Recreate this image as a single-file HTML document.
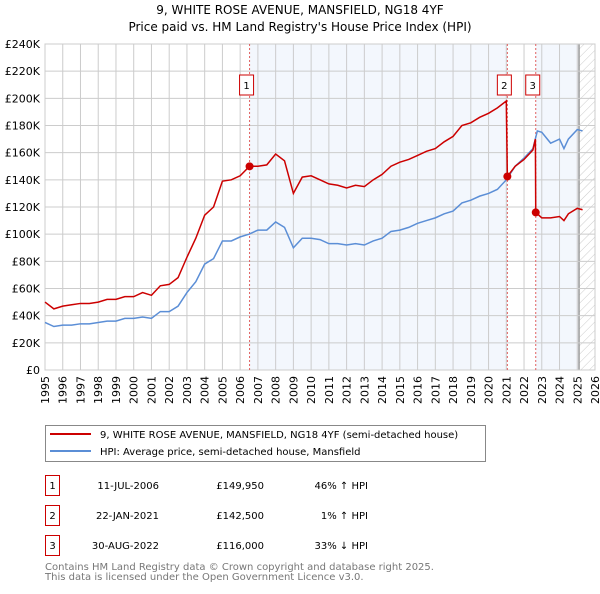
<!DOCTYPE html>
<html><head><meta charset="utf-8"><style>
body{margin:0;background:#fff;font-family:"DejaVu Sans","Liberation Sans",sans-serif;}
svg text{font-family:"DejaVu Sans","Liberation Sans",sans-serif;}
</style></head><body>
<svg id="chart" width="600" height="590" xmlns="http://www.w3.org/2000/svg">
<defs><pattern id="hatch" width="6" height="6" patternUnits="userSpaceOnUse" patternTransform="rotate(45)"><line x1="0" y1="0" x2="0" y2="6" stroke="#ccc" stroke-width="1"/></pattern></defs>
<text x="300" y="14" font-size="12" text-anchor="middle">9, WHITE ROSE AVENUE, MANSFIELD, NG18 4YF</text>
<text x="300" y="31" font-size="12" text-anchor="middle">Price paid vs. HM Land Registry's House Price Index (HPI)</text>
<g id="plot"></g>
<rect x="45.5" y="425.5" width="440" height="36" fill="#fff" stroke="#888"/>
<line x1="50" y1="434" x2="91" y2="434" stroke="#cc0000" stroke-width="2"/>
<text x="100" y="438" font-size="10">9, WHITE ROSE AVENUE, MANSFIELD, NG18 4YF (semi-detached house)</text>
<line x1="50" y1="451" x2="91" y2="451" stroke="#5b8ed6" stroke-width="2"/>
<text x="100" y="455" font-size="10">HPI: Average price, semi-detached house, Mansfield</text>
<g font-size="10">
<rect x="45.5" y="475.5" width="14" height="20" fill="#fff" stroke="#cc0000"/><text x="52.5" y="489" text-anchor="middle">1</text>
<text x="159" y="489" text-anchor="end">11-JUL-2006</text><text x="264" y="489" text-anchor="end">£149,950</text><text x="368" y="489" text-anchor="end">46% ↑ HPI</text>
<rect x="45.5" y="505.5" width="14" height="20" fill="#fff" stroke="#cc0000"/><text x="52.5" y="519" text-anchor="middle">2</text>
<text x="159" y="519" text-anchor="end">22-JAN-2021</text><text x="264" y="519" text-anchor="end">£142,500</text><text x="368" y="519" text-anchor="end">1% ↑ HPI</text>
<rect x="45.5" y="535.5" width="14" height="20" fill="#fff" stroke="#cc0000"/><text x="52.5" y="549" text-anchor="middle">3</text>
<text x="159" y="549" text-anchor="end">30-AUG-2022</text><text x="264" y="549" text-anchor="end">£116,000</text><text x="368" y="549" text-anchor="end">33% ↓ HPI</text>
</g>
<text x="45" y="570" font-size="10" fill="#777">Contains HM Land Registry data © Crown copyright and database right 2025.</text>
<text x="45" y="580" font-size="10" fill="#777">This data is licensed under the Open Government Licence v3.0.</text>
</svg>
<script>
const years=[1995,1995.5,1996,1996.5,1997,1997.5,1998,1998.5,1999,1999.5,2000,2000.5,2001,2001.5,2002,2002.5,2003,2003.5,2004,2004.5,2005,2005.5,2006,2006.5,2007,2007.5,2008,2008.5,2009,2009.5,2010,2010.5,2011,2011.5,2012,2012.5,2013,2013.5,2014,2014.5,2015,2015.5,2016,2016.5,2017,2017.5,2018,2018.5,2019,2019.5,2020,2020.5,2021,2021.5,2022,2022.5,2022.75,2023,2023.5,2024,2024.25,2024.5,2025,2025.3];
const hpiValues=[35,32,33,33,34,34,35,36,36,38,38,39,38,43,43,47,57,65,78,82,95,95,98,100,103,103,109,105,90,97,97,96,93,93,92,93,92,95,97,102,103,105,108,110,112,115,117,123,125,128,130,133,140,150,156,163,176,175,167,170,163,170,177,176];
const propYears=[1995,1995.5,1996,1996.5,1997,1997.5,1998,1998.5,1999,1999.5,2000,2000.5,2001,2001.5,2002,2002.5,2003,2003.5,2004,2004.5,2005,2005.5,2006,2006.53,2007,2007.5,2008,2008.5,2009,2009.5,2010,2010.5,2011,2011.5,2012,2012.5,2013,2013.5,2014,2014.5,2015,2015.5,2016,2016.5,2017,2017.5,2018,2018.5,2019,2019.5,2020,2020.5,2021.0,2021.06,2021.5,2022,2022.5,2022.64,2022.66,2023,2023.5,2024,2024.25,2024.5,2025,2025.3];
const propValues=[50,45,47,48,49,49,50,52,52,54,54,57,55,62,63,68,83,97,114,120,139,140,143,150,150,151,159,154,130,142,143,140,137,136,134,136,135,140,144,150,153,155,158,161,163,168,172,180,182,186,189,193,198,142.5,150,155,162,170,116,112,112,113,110,115,119,118];
const saleYears=[2006.53,2021.06,2022.66];
const salePrices=[149.95,142.5,116];
const saleLabels=["1","2","3"];
const yTicks=[0,20,40,60,80,100,120,140,160,180,200,220,240];
const yTickLabels=["£0","£20K","£40K","£60K","£80K","£100K","£120K","£140K","£160K","£180K","£200K","£220K","£240K"];
const xTicks=[1995,1996,1997,1998,1999,2000,2001,2002,2003,2004,2005,2006,2007,2008,2009,2010,2011,2012,2013,2014,2015,2016,2017,2018,2019,2020,2021,2022,2023,2024,2025,2026];

const X0=45,X1=595,Y0=370,Y1=44;
const xs=y=>X0+(y-1995)*(X1-X0)/31;
const ys=v=>Y0-v*(Y0-Y1)/240;
const NS="http://www.w3.org/2000/svg";
const g=document.getElementById('plot');
function mk(t,a){const e=document.createElementNS(NS,t);for(const k in a)e.setAttribute(k,a[k]);g.appendChild(e);return e;}
let r=mk('rect',{x:xs(saleYears[0]),y:Y1,width:xs(saleYears[1])-xs(saleYears[0]),height:Y0-Y1,fill:'#eef3fc',opacity:0.7});


r=mk('rect',{x:xs(saleYears[2]),y:Y1,width:xs(2025.1)-xs(saleYears[2]),height:Y0-Y1,fill:'#eef3fc',opacity:0.7});


r=mk('rect',{x:xs(2025.1),y:Y1,width:X1-xs(2025.1),height:Y0-Y1,fill:'url(#hatch)'});


mk('line',{x1:xs(2025.1),y1:Y1,x2:xs(2025.1),y2:Y0,stroke:'#999','stroke-width':1.5});
yTicks.forEach((t,i)=>{
 mk('line',{x1:X0,y1:ys(t),x2:X1,y2:ys(t),stroke:'#ccc','stroke-width':1});
 const e=mk('text',{x:X0-5,y:ys(t)+4,'font-size':11,'text-anchor':'end'});e.textContent=yTickLabels[i];
 
 
});
xTicks.forEach(t=>{
 mk('line',{x1:xs(t),y1:Y1,x2:xs(t),y2:Y0,stroke:'#ccc','stroke-width':1});
 const e=mk('text',{x:0,y:0,'font-size':11,'text-anchor':'end',transform:`translate(${xs(t)+4},${Y0+6}) rotate(-90)`});e.textContent=t;
 
 
});
mk('rect',{x:X0,y:Y1,width:X1-X0,height:Y0-Y1,fill:'none',stroke:'#ccc'});
saleYears.forEach((s,i)=>{
 mk('line',{x1:xs(s),y1:Y1,x2:xs(s),y2:Y0,stroke:'#e06060','stroke-width':1,'stroke-dasharray':'2,2'});
 const b=mk('rect',{x:xs(s)-10,y:75,width:14,height:20,fill:'#fff',stroke:'#cc0000'});
 
 
 const t=mk('text',{x:xs(s)-3,y:89,'font-size':10,'text-anchor':'middle'});t.textContent=saleLabels[i];
});
let p=mk('polyline',{points:years.map((y,i)=>xs(y)+','+ys(hpiValues[i])).join(' '),fill:'none',stroke:'#5b8ed6','stroke-width':1.5});


p=mk('polyline',{points:propYears.map((y,i)=>xs(y)+','+ys(propValues[i])).join(' '),fill:'none',stroke:'#cc0000','stroke-width':1.5});


saleYears.forEach((s,i)=>{
 const c=mk('circle',{cx:xs(s),cy:ys(salePrices[i]),r:4,fill:'#cc0000'});
 
 
});
</script>
</body></html>
